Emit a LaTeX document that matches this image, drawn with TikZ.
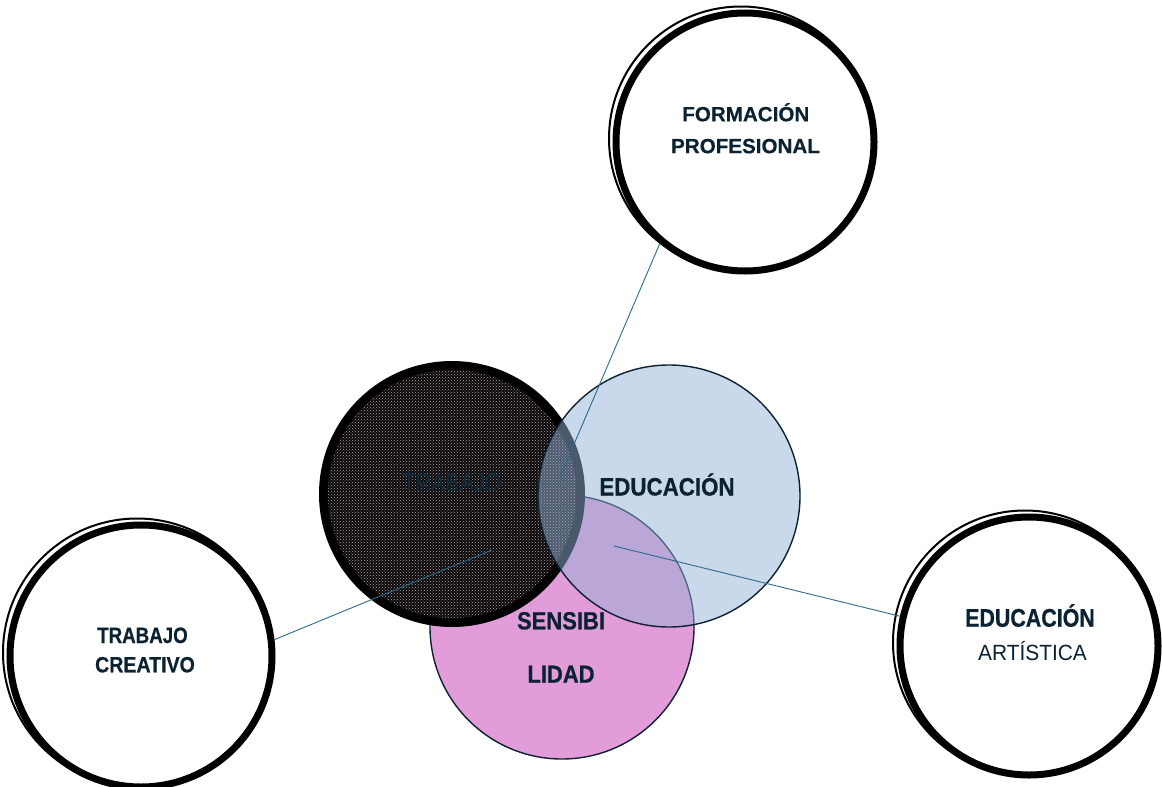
\documentclass[tikz,border=0pt]{standalone}
\usepackage{fontspec}
\setmainfont[BoldFeatures={FakeBold=0.4}]{Liberation Sans}
\newfontfamily\narrowA[FakeStretch=0.84,BoldFeatures={FakeBold=0.6}]{Liberation Sans}
\newfontfamily\narrowB[FakeStretch=0.89,BoldFeatures={FakeBold=0.6}]{Liberation Sans}
\newfontfamily\narrowC[FakeStretch=0.95]{Liberation Sans}
\usetikzlibrary{patterns}
\definecolor{navy}{HTML}{0B2233}
\definecolor{pinkf}{RGB}{227,156,218}
\definecolor{bluef}{RGB}{147,177,213}
\definecolor{linkc}{HTML}{2A6B8A}
\definecolor{blackf}{HTML}{0B0709}
\definecolor{specks}{RGB}{175,168,172}
\definecolor{darktxt}{HTML}{0E2C3C}
\begin{document}
\begin{tikzpicture}[x=1pt,y=-1pt,
  outer/.style={circle, draw=black, line width=7pt, fill=white, minimum size=258pt, inner sep=0pt},
  echo/.style={draw=black, line width=2pt},
  venn/.style={circle, draw=navy, line width=1.4pt, inner sep=0pt},
  lbl/.style={text=navy, anchor=base, inner sep=0pt},
  link/.style={draw=linkc, line width=0.9pt}]
\useasboundingbox (0,0) rectangle (1162,787);

% central Venn circles
\node[venn, fill=pinkf, minimum size=264pt] (sens) at (562,627) {};
\node[circle, draw=black, line width=8pt, fill=blackf, minimum size=258pt, inner sep=0pt] (trab) at (452,494) {};
\fill[pattern=crosshatch dots, pattern color=specks] (trab.center) circle (124pt);
\node[venn, fill=bluef, fill opacity=0.5, minimum size=262pt] (edu) at (669,496) {};

% central labels
\node[lbl, text=darktxt, font=\narrowA\fontsize{25.5}{30}\selectfont] (tTrab) at (452,491.5) {TRABAJO};
\node[lbl, font=\narrowB\bfseries\fontsize{25.1}{30}\selectfont] (tEdu) at (667,495.5) {EDUCACIÓN};
\node[lbl, font=\narrowB\bfseries\fontsize{24.7}{30}\selectfont] (tSen1) at (561,629.3) {SENSIBI};
\node[lbl, font=\narrowB\bfseries\fontsize{24.7}{30}\selectfont] (tSen2) at (561,682.7) {LIDAD};

% outer circles
\node[outer] (fp) at (745,142) {};
\draw[echo] (741,138.5) circle (132pt);
\node[outer, minimum size=262pt] (tc) at (141,656) {};
\draw[echo] (137,652.5) circle (134pt);
\node[outer] (ea) at (1029,646) {};
\draw[echo] (1025,642.5) circle (132pt);

% outer labels
\node[lbl, font=\bfseries\fontsize{20.6}{24}\selectfont] (fp1) at (745.8,121.3) {FORMACIÓN};
\node[lbl, font=\bfseries\fontsize{20.6}{24}\selectfont] (fp2) at (745.5,153.2) {PROFESIONAL};
\node[lbl, font=\narrowA\bfseries\fontsize{22.3}{26}\selectfont] (tc1) at (142.5,643) {TRABAJO};
\node[lbl, font=\narrowB\bfseries\fontsize{22}{26}\selectfont] (tc2) at (145,672.3) {CREATIVO};
\node[lbl, font=\narrowA\bfseries\fontsize{25.5}{30}\selectfont] (ea1) at (1030,626.7) {EDUCACIÓN};
\node[lbl, font=\narrowC\fontsize{22}{26}\selectfont] (ea2) at (1032.5,660.7) {ARTÍSTICA};

% connectors
\coordinate (jfp) at (560,477);
\coordinate (jtc) at (492,550);
\coordinate (jea) at (614,546);
\draw[link] (fp.230.6) -- (jfp);
\draw[link] (tc.7) -- (jtc);
\draw[link] (ea.167) -- (jea);
\end{tikzpicture}
\end{document}
